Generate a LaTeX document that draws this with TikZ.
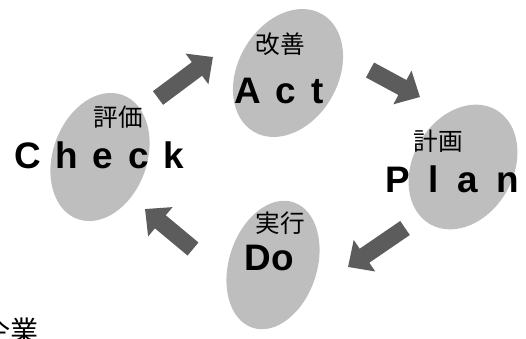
\documentclass[tikz,border=0pt]{standalone}
\usepackage{fontspec}
\setmainfont{Liberation Sans}
\newfontfamily\jpfont{Noto Sans CJK JP}
\usetikzlibrary{shapes.geometric, arrows.meta}
\definecolor{ovalgray}{RGB}{190, 190, 190}
\definecolor{arrowgray}{RGB}{92, 92, 92}
\tikzset{
  phase/.style={ellipse, draw=none, fill=ovalgray, inner sep=0pt},
  jplabel/.style={inner sep=0pt, font=\jpfont\fontsize{14}{14}\selectfont},
  enlabel/.style={inner sep=0pt, anchor=base, font=\fontsize{21}{21}\selectfont\bfseries},
  bigarrow/.style={draw=arrowgray, line width=0.34cm,
    -{Triangle[length=0.4cm, width=0.74cm]}}
}
\begin{document}
\begin{tikzpicture}[x=0.02cm, y=-0.02cm]
\clip (0,0) rectangle (526,338);
% the four phases
\node (check) [phase, minimum width=1.88cm, minimum height=2.64cm, rotate=-20] at (100,157) {};
\node (act)   [phase, minimum width=2.0cm,  minimum height=2.72cm, rotate=-30] at (288,73)  {};
\node (plan)  [phase, minimum width=2.0cm,  minimum height=2.64cm, rotate=-30] at (463,167) {};
\node (do)    [phase, minimum width=1.76cm, minimum height=2.64cm, rotate=-18] at (273,265) {};

\node (checkjp) [jplabel] at (118,117) {評価};
\node (actjp)   [jplabel] at (280,44)  {改善};
\node (planjp)  [jplabel] at (438,141) {計画};
\node (dojp)    [jplabel] at (280,223) {実行};

\node (checken) [enlabel] at (99,168) {\addfontfeature{LetterSpace=40}Check};
\node (acten)   [enlabel] at (279,103) {\addfontfeature{LetterSpace=40}Act};
\node (planen)  [enlabel] at (452,192) {\addfontfeature{LetterSpace=50}Plan};
\node (doen)    [enlabel] at (269,270) {Do};

\node (corp) [jplabel, anchor=base east, font=\jpfont\fontsize{16}{16}\selectfont] at (39,341) {企業};

% cycle arrows
\coordinate (c2a-s) at (158,98);  \coordinate (c2a-e) at (213,57);
\coordinate (a2p-s) at (370,70);  \coordinate (a2p-e) at (420,97);
\coordinate (p2d-s) at (405,228); \coordinate (p2d-e) at (348,267);
\coordinate (d2c-s) at (193,249); \coordinate (d2c-e) at (145,209);

\draw[bigarrow] (c2a-s) -- (c2a-e);
\draw[bigarrow] (a2p-s) -- (a2p-e);
\draw[bigarrow] (p2d-s) -- (p2d-e);
\draw[bigarrow] (d2c-s) -- (d2c-e);
\end{tikzpicture}
\end{document}
